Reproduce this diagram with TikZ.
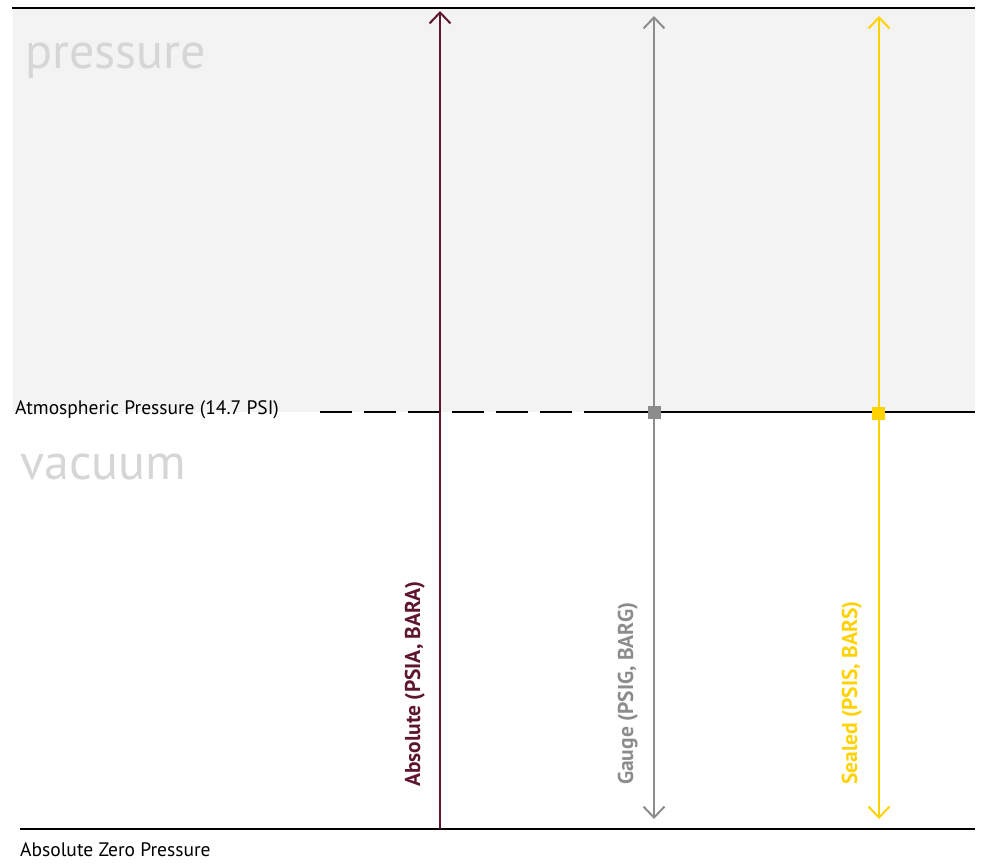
\documentclass[tikz,border=0pt]{standalone}
\usepackage{fontspec}
\setmainfont{PT Sans}
\usetikzlibrary{arrows.meta}
\definecolor{bggray}{HTML}{F3F3F3}
\definecolor{maroon}{HTML}{5E1530}
\definecolor{gaugegray}{HTML}{8C8C8C}
\definecolor{sealyel}{HTML}{FFD200}
\definecolor{bigtxt}{HTML}{D6D6D6}
\begin{document}
\begin{tikzpicture}[x=1pt,y=-1pt,
  tip/.style={-{Straight Barb[length=11pt,width=21pt,line width=2pt]}},
  bothtip/.style={{Straight Barb[length=11pt,width=21pt,line width=2pt]}-{Straight Barb[length=11pt,width=21pt,line width=2pt]}},
  refline/.style={line width=2.2pt,black},
  biglabel/.style={anchor=base west,inner sep=0pt,text=bigtxt,font=\fontsize{50}{50}\selectfont},
  smalllabel/.style={anchor=base west,inner sep=0pt,font=\fontsize{19.5}{21}\selectfont},
  vlabel/.style={rotate=90,anchor=base west,inner sep=0pt,font=\bfseries\fontsize{21.5}{22}\selectfont},
  marker/.style={minimum size=13pt,inner sep=0pt}]
\useasboundingbox (0,0) rectangle (981,863);
\fill[bggray] (13,8) rectangle (975,412);
% reference lines
\coordinate (topL) at (12,8);
\coordinate (topR) at (975,8);
\coordinate (atmDash) at (320,412);
\coordinate (atmMid) at (610,412);
\coordinate (atmR) at (975,412);
\coordinate (botL) at (20,829);
\coordinate (botR) at (975,829);
\draw[refline] (topL) -- (topR);
\draw[line width=2pt,black,dash pattern=on 32pt off 12pt] (atmDash) -- (atmMid);
\draw[refline,line width=2pt] (atmMid) -- (atmR);
\draw[refline,line width=2.5pt] (botL) -- (botR);
% texts
\node[biglabel] (pres) at (25,68) {pressure};
\node[biglabel] (vac) at (20,479) {vacuum};
\node[smalllabel] (atm) at (15,414) {Atmospheric Pressure (14.7 PSI)};
\node[smalllabel] (zero) at (20,856) {Absolute Zero Pressure};
% absolute
\coordinate (absB) at (440,829);
\coordinate (absT) at (440,11);
\draw[maroon,line width=2pt,tip] (absB) -- (absT);
\node[vlabel,text=maroon] (absL) at (420,787) {Absolute (PSIA, BARA)};
% gauge
\node[marker,fill=gaugegray] (gm) at (654,412) {};
\coordinate (gT) at (654,16);
\coordinate (gB) at (654,819);
\draw[gaugegray,line width=2pt,bothtip] (gB) -- (gT);
\node[vlabel,text=gaugegray] (gL) at (633,785) {Gauge (PSIG, BARG)};
\node[marker,fill=sealyel] (sm) at (878,413) {};
\coordinate (sT) at (879,16);
\coordinate (sB) at (879,819);
\draw[sealyel,line width=2pt,bothtip] (sB) -- (sT);
\node[vlabel,text=sealyel] (sL) at (857,785) {Sealed (PSIS, BARS)};
\end{tikzpicture}
\end{document}
